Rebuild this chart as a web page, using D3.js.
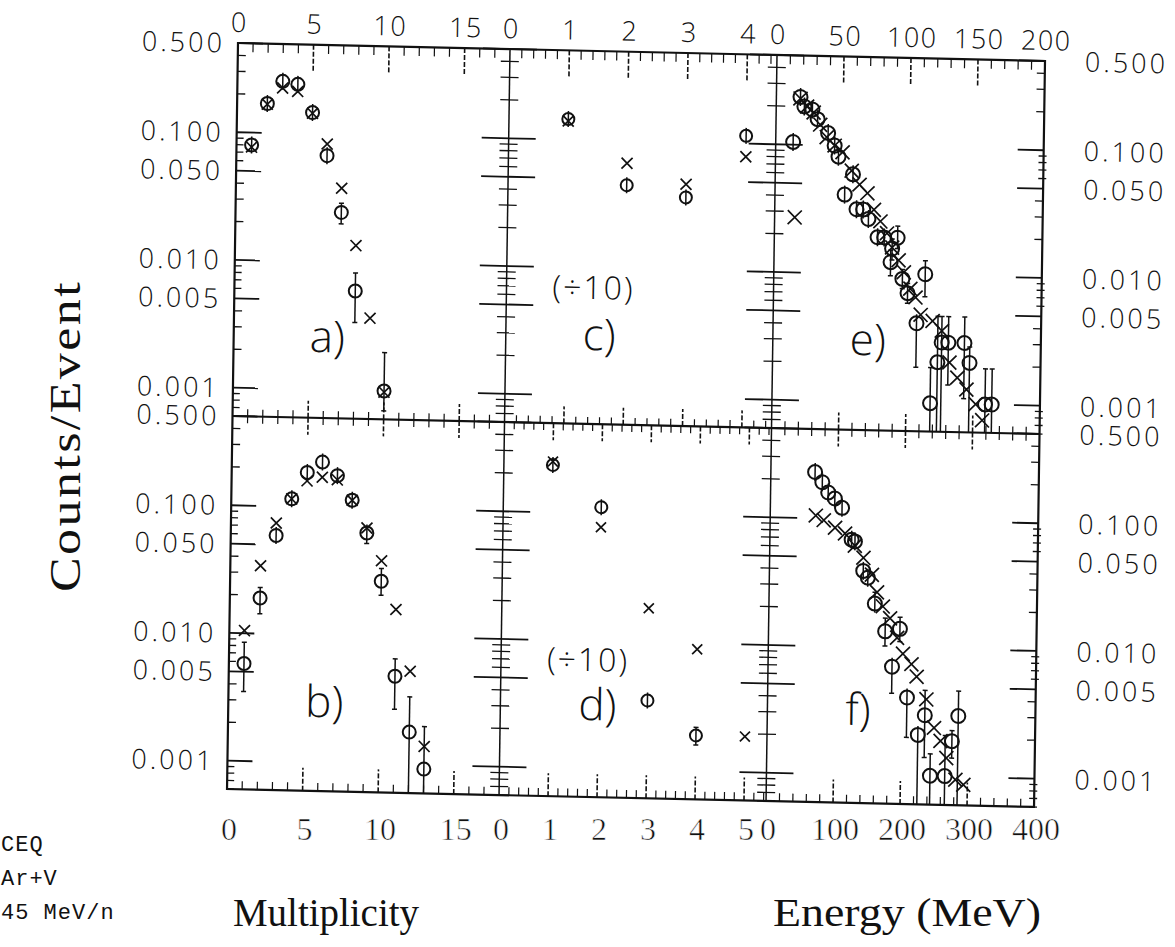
<!DOCTYPE html>
<html>
<head>
<meta charset="utf-8">
<script src="https://cdn.jsdelivr.net/npm/d3@7"></script>
<style>
  body { margin: 0; background: #fff; }
  svg { display: block; }
</style>
</head>
<body>
<svg id="chart" width="1175" height="947"></svg>
<script>
// ---------------- data ----------------
// y axis (shared by every panel, log scale)
const yTickLabels = ["0.500", "0.100", "0.050", "0.010", "0.005", "0.001"];

// x tick labels per panel
const multTickLabels = ["0", "5", "10", "15"];            // panels a, b
const ratioTopTickLabels = ["0", "1", "2", "3", "4"];      // panel c
const ratioBotTickLabels = ["0", "1", "2", "3", "4", "5"]; // panel d
const energyTopTickLabels = ["0", "50", "100", "150", "200"]; // panel e
const energyBotTickLabels = ["0", "100", "200", "300", "400"]; // panel f

// circles: [x, value, lower, upper]   crosses: [x, value]
const aCircles = [
  [1, 0.080, 0.076, 0.084], [2, 0.170, 0.162, 0.178], [3, 0.255, 0.244, 0.266],
  [4, 0.243, 0.232, 0.254], [5, 0.147, 0.140, 0.154], [6, 0.068, 0.061, 0.076],
  [7, 0.0246, 0.020, 0.029], [8, 0.0060, 0.0034, 0.0083], [10, 0.00100, 0.0007, 0.0020]
];
const aCrosses = [
  [1, 0.077], [2, 0.168], [3, 0.226], [4, 0.214], [5, 0.145],
  [6, 0.084], [7, 0.038], [8, 0.0136], [9, 0.0037], [10, 0.00098]
];

const bCircles = [
  [1, 0.0058, 0.0035, 0.0085], [2, 0.019, 0.0143, 0.023], [3, 0.059, 0.052, 0.068],
  [4, 0.115, 0.109, 0.121], [5, 0.186, 0.178, 0.194], [6, 0.226, 0.216, 0.236],
  [7, 0.178, 0.170, 0.186], [8, 0.115, 0.109, 0.121], [9, 0.064, 0.053, 0.074],
  [10, 0.027, 0.021, 0.034], [11, 0.0049, 0.0027, 0.0067], [12, 0.0018, 0.0005, 0.0034],
  [13, 0.00093, 0.0005, 0.0020]
];
const bCrosses = [
  [1, 0.0105], [2, 0.034], [3, 0.074], [4, 0.115], [5, 0.160], [6, 0.172], [7, 0.165],
  [8, 0.115], [9, 0.070], [10, 0.039], [11, 0.0163], [12, 0.0054], [13, 0.0014]
];

const cCircles = [
  [1, 0.145, 0.139, 0.151], [2, 0.045, 0.043, 0.047],
  [3, 0.037, 0.035, 0.039], [4, 0.115, 0.110, 0.120]
];
const cCrosses = [[1, 0.140], [2, 0.067], [3, 0.047], [4, 0.079]];

const dCircles = [
  [1, 0.235, 0.226, 0.244], [2, 0.112, 0.107, 0.117],
  [3, 0.0035, 0.0031, 0.0040], [4, 0.0019, 0.0016, 0.0022]
];
const dCrosses = [[1, 0.250], [2, 0.078], [3, 0.0185], [4, 0.0090], [5, 0.0019]];

const eCircles = [
  [13, 0.105, 0.100, 0.110], [18, 0.237, 0.228, 0.246], [21, 0.200, 0.192, 0.208],
  [27, 0.190, 0.182, 0.198], [31, 0.160, 0.153, 0.167], [39, 0.125, 0.119, 0.131],
  [44, 0.100, 0.095, 0.105], [47, 0.082, 0.077, 0.087], [52, 0.0415, 0.038, 0.046],
  [58, 0.060, 0.056, 0.064], [61, 0.032, 0.029, 0.035], [66, 0.032, 0.029, 0.035],
  [70, 0.027, 0.024, 0.030], [77, 0.0195, 0.017, 0.022], [82, 0.0195, 0.017, 0.022],
  [87, 0.0125, 0.0098, 0.0155], [88, 0.016, 0.013, 0.019], [92, 0.0195, 0.016, 0.024],
  [96, 0.0093, 0.0078, 0.011], [100, 0.0072, 0.006, 0.0086], [107, 0.0042, 0.0019, 0.0048],
  [113, 0.0102, 0.0068, 0.0130], [118, 0.00100, 0.0005, 0.0019], [123, 0.0021, 0.0005, 0.0048],
  [126, 0.0030, 0.0005, 0.0048], [131, 0.0030, 0.0014, 0.0048], [143, 0.0030, 0.0011, 0.0048],
  [147, 0.0021, 0.0005, 0.0028], [159, 0.0010, 0.0005, 0.0019], [164, 0.0010, 0.0005, 0.0019]
];
const eCrosses = [
  [15, 0.027], [18, 0.23], [23, 0.20], [28, 0.18], [33, 0.145], [38, 0.116], [44, 0.100],
  [50, 0.089], [57, 0.064], [63, 0.050], [69, 0.043], [74, 0.032], [79, 0.026], [84, 0.021],
  [88, 0.0163], [93, 0.0130], [97, 0.0105], [102, 0.0078], [106, 0.0067], [110, 0.0049],
  [119, 0.0044], [126, 0.0037], [132, 0.0021], [138, 0.0016], [145, 0.0013], [152, 0.0010],
  [157, 0.00075]
];

const fCircles = [
  [66, 0.230, 0.222, 0.238], [77, 0.192, 0.185, 0.199], [86, 0.160, 0.153, 0.167],
  [96, 0.144, 0.137, 0.151], [107, 0.122, 0.115, 0.129], [122, 0.069, 0.064, 0.074],
  [127, 0.067, 0.062, 0.072], [140, 0.0395, 0.035, 0.044], [147, 0.035, 0.031, 0.039],
  [158, 0.022, 0.019, 0.027], [174, 0.0134, 0.0103, 0.017], [185, 0.0071, 0.0044, 0.0081],
  [196, 0.0141, 0.0112, 0.0174], [208, 0.0041, 0.0020, 0.0047], [225, 0.0021, 0.0005, 0.0023],
  [235, 0.0030, 0.0014, 0.0047], [244, 0.00101, 0.0005, 0.0015], [266, 0.00101, 0.0005, 0.0021],
  [276, 0.0019, 0.0014, 0.0023], [285, 0.0030, 0.0005, 0.0047]
];
const fCrosses = [
  [68, 0.105], [80, 0.097], [97, 0.085], [112, 0.077], [127, 0.062], [140, 0.050],
  [153, 0.037], [161, 0.027], [170, 0.021], [181, 0.017], [192, 0.012], [201, 0.0090],
  [214, 0.0075], [222, 0.0060], [237, 0.0040], [249, 0.0024], [259, 0.0019], [268, 0.0014],
  [282, 0.00095], [294, 0.00087]
];

// ---------------- layout ----------------
const plotW = 807, rowH = 373;
const colEdges = [0, 272, 539, 807];
const yMin = 0.0006, yMax = 0.5;

const SANS = "'Open Sans', 'DejaVu Sans', sans-serif";
const SERIF = "'Liberation Serif', 'DejaVu Serif', serif";
const MONO = "'Liberation Mono', 'DejaVu Sans Mono', monospace";
const INK = "#111";

const svg = d3.select("#chart");
svg.append("rect").attr("width", 1175).attr("height", 947).attr("fill", "#fff");

// the whole frame sits slightly sheared on the page
const g = svg.append("g").attr("transform", "matrix(1,0.0223,-0.0147,1,238,43)");

const yTop = d3.scaleLog().domain([yMin, yMax]).range([rowH, 0]).clamp(true);
const yBot = d3.scaleLog().domain([yMin, yMax]).range([2 * rowH, rowH]).clamp(true);

const xa = d3.scaleLinear().domain([0, 18]).range([colEdges[0], colEdges[1]]);
const xc = d3.scaleLinear().domain([0, 4.5]).range([colEdges[1], colEdges[2]]);
const xe = d3.scaleLinear().domain([0, 200]).range([colEdges[2], colEdges[3]]);
const xb = d3.scaleLinear().domain([0, 18]).range([colEdges[0], colEdges[1]]);
const xd = d3.scaleLinear().domain([0, 5.45]).range([colEdges[1], colEdges[2]]);
const xf = d3.scaleLinear().domain([0, 400]).range([colEdges[2], colEdges[3]]);

// ---------------- frame ----------------
const frame = g.append("g").attr("stroke", INK).attr("fill", "none");
frame.append("rect").attr("x", 0).attr("y", 0).attr("width", plotW).attr("height", 2 * rowH)
  .attr("stroke-width", 2.2);
frame.append("line").attr("x1", 0).attr("x2", plotW).attr("y1", rowH).attr("y2", rowH)
  .attr("stroke-width", 2.2);
[colEdges[1], colEdges[2]].forEach(xv => {
  frame.append("line").attr("x1", xv).attr("x2", xv).attr("y1", 0).attr("y2", 2 * rowH)
    .attr("stroke-width", 1.5);
});

// ---------------- y ticks ----------------
function mantissa(t) {
  return Math.round(t / Math.pow(10, Math.floor(Math.log10(t) + 1e-9)));
}
function yTicks(xPos, yScale, mode) {
  const tg = g.append("g").attr("stroke", INK).attr("stroke-width", 1.4);
  yScale.ticks().forEach(t => {
    const m = mantissa(t);
    const py = yScale(t);
    let x1, x2;
    const big = (m === 1 || m === 5);
    const small = (m >= 6);
    if (mode === "left") { x1 = xPos; x2 = xPos + (big ? 25 : small ? 7 : 8); }
    else if (mode === "right") {
      if (small) { x1 = xPos - 5; x2 = xPos + 3; }
      else { x1 = xPos - (big ? 26 : 8); x2 = xPos; }
    } else {
      const h = big ? 27 : 9;
      x1 = xPos - h; x2 = xPos + h;
    }
    tg.append("line").attr("x1", x1).attr("x2", x2).attr("y1", py).attr("y2", py)
      .attr("stroke-width", big ? 1.8 : 1.3);
  });
}
[yTop, yBot].forEach(ys => {
  yTicks(0, ys, "left");
  yTicks(colEdges[1], ys, "mid");
  yTicks(colEdges[2], ys, "mid");
  yTicks(plotW, ys, "right");
});

// y tick labels, left and right
const yLab = g.append("g").attr("font-family", SANS).attr("font-weight", 300)
  .attr("font-size", 27).attr("fill", INK).attr("letter-spacing", 3);
[yTop, yBot].forEach(ys => {
  yTickLabels.forEach(lbl => {
    const v = +lbl;
    yLab.append("text").attr("x", -13).attr("y", ys(v)).attr("dy", "0.36em")
      .attr("text-anchor", "end").text(lbl);
    yLab.append("text").attr("x", 847).attr("y", ys(v)).attr("dy", "0.36em")
      .attr("text-anchor", "start").text(lbl);
  });
});

// ---------------- x ticks ----------------
function xTicks(xs, majorStep, minorStep, yPos, dir, majLen, minLen) {
  const tg = g.append("g").attr("stroke", INK);
  const [d0, d1] = xs.domain();
  const n = Math.round((d1 - d0) / minorStep);
  for (let i = 1; i <= n; i++) {
    const v = d0 + i * minorStep;
    if (xs(v) >= xs.range()[1] - 1) continue;
    const isMajor = Math.abs(v / majorStep - Math.round(v / majorStep)) < 1e-6;
    const len = isMajor ? majLen : minLen;
    tg.append("line").attr("x1", xs(v)).attr("x2", xs(v))
      .attr("y1", yPos).attr("y2", yPos + dir * len)
      .attr("stroke-width", isMajor ? 1.6 : 1.2)
      .attr("stroke-dasharray", isMajor ? "5,2" : null);
  }
}
// top row
xTicks(xa, 5, 1, 0, 1, 28, 9);
xTicks(xc, 1, 0.2, 0, 1, 28, 9);
xTicks(xe, 50, 10, 0, 1, 28, 9);
xTicks(xa, 5, 1, rowH, -1, 17, 7);
xTicks(xc, 1, 0.2, rowH, -1, 17, 7);
xTicks(xe, 50, 10, rowH, -1, 17, 7);
// bottom row
xTicks(xb, 5, 1, rowH, 1, 17, 7);
xTicks(xd, 1, 0.2, rowH, 1, 17, 7);
xTicks(xf, 100, 20, rowH, 1, 17, 7);
xTicks(xb, 5, 1, 2 * rowH, -1, 23, 8);
xTicks(xd, 1, 0.2, 2 * rowH, -1, 23, 8);
xTicks(xf, 100, 20, 2 * rowH, -1, 23, 8);

// top tick labels (follow the frame)
const topLab = g.append("g").attr("font-family", SANS).attr("font-weight", 300)
  .attr("font-size", 27).attr("fill", INK).attr("letter-spacing", 1.5).attr("text-anchor", "middle");
[[xa, multTickLabels], [xc, ratioTopTickLabels], [xe, energyTopTickLabels]].forEach(([xs, labels]) => {
  labels.forEach(lbl => {
    topLab.append("text").attr("x", xs(+lbl) + 1).attr("y", -11).text(lbl);
  });
});

// bottom tick labels
const botLab = svg.append("g").attr("font-family", SERIF).attr("font-size", 32)
  .attr("fill", INK).attr("stroke", "#fff").attr("stroke-width", 0.6).attr("text-anchor", "middle");
[[xb, multTickLabels], [xd, ratioBotTickLabels], [xf, energyBotTickLabels]].forEach(([xs, labels]) => {
  labels.forEach(lbl => {
    botLab.append("text").attr("x", 227 + xs(+lbl) + 2).attr("y", 840).text(lbl);
  });
});

// ---------------- data marks ----------------
function drawSeries(xs, ys, circles, crosses, rc, hc) {
  const pg = g.append("g").attr("stroke", INK).attr("fill", "none");
  circles.forEach(([xv, v, lo, hi]) => {
    const cx = xs(xv), cy = ys(v);
    const yh = ys(hi), yl = ys(lo);
    const top = Math.min(yh, cy - rc - 2), bot = Math.max(yl, cy + rc + 2);
    pg.append("line").attr("x1", cx).attr("x2", cx).attr("y1", top).attr("y2", bot)
      .attr("stroke-width", 1.5);
    if (yh < cy - rc - 2) {
      pg.append("line").attr("x1", cx - 2.5).attr("x2", cx + 2.5).attr("y1", yh).attr("y2", yh)
        .attr("stroke-width", 1.5);
    }
    if (yl > cy + rc + 2 && lo > yMin) {
      pg.append("line").attr("x1", cx - 2.5).attr("x2", cx + 2.5).attr("y1", yl).attr("y2", yl)
        .attr("stroke-width", 1.5);
    }
  });
  pg.selectAll("circle").data(circles).join("circle")
    .attr("cx", d => xs(d[0])).attr("cy", d => ys(d[1])).attr("r", rc)
    .attr("stroke-width", 2);
  pg.selectAll("path").data(crosses).join("path")
    .attr("d", d => {
      const cx = xs(d[0]), cy = ys(d[1]);
      return `M${cx - hc},${cy - hc}L${cx + hc},${cy + hc}M${cx - hc},${cy + hc}L${cx + hc},${cy - hc}`;
    })
    .attr("stroke-width", 1.7);
}
drawSeries(xa, yTop, aCircles, aCrosses, 6.5, 5.5);
drawSeries(xc, yTop, cCircles, cCrosses, 6, 5.5);
drawSeries(xe, yTop, eCircles, eCrosses, 7, 7);
drawSeries(xb, yBot, bCircles, bCrosses, 6.5, 5.5);
drawSeries(xd, yBot, dCircles, dCrosses, 6, 5);
drawSeries(xf, yBot, fCircles, fCrosses, 7, 7);

// ---------------- panel captions ----------------
const cap = g.append("g").attr("font-family", SANS).attr("font-weight", 300).attr("fill", INK);
[
  ["a)", 76, 307, 44], ["c)", 349, 299, 44], ["e)", 616, 298, 44],
  ["b)", 77, 672, 44], ["d)", 350, 669, 44], ["f)", 617, 668, 44],
  ["(÷10)", 318, 248, 32], ["(÷10)", 318, 620, 32]
].forEach(([t, x, y, fs]) => {
  cap.append("text").attr("x", x).attr("y", y).attr("font-size", fs)
    .attr("letter-spacing", fs < 40 ? 2 : 0).text(t);
});

// ---------------- axis titles and run info ----------------
const titles = svg.append("g").attr("font-family", SERIF).attr("fill", INK);
titles.append("text").attr("transform", "translate(80,436) rotate(-90)")
  .attr("text-anchor", "middle").attr("font-size", 44).attr("letter-spacing", 2)
  .attr("textLength", 312).attr("lengthAdjust", "spacingAndGlyphs")
  .text("Counts/Event");
titles.append("text").attr("x", 233).attr("y", 926).attr("font-size", 40)
  .attr("textLength", 186).attr("lengthAdjust", "spacingAndGlyphs")
  .text("Multiplicity");
titles.append("text").attr("x", 773).attr("y", 926).attr("font-size", 40)
  .attr("textLength", 268).attr("lengthAdjust", "spacingAndGlyphs")
  .text("Energy (MeV)");

const info = svg.append("g").attr("font-family", MONO).attr("font-size", 22).attr("fill", INK)
  .attr("letter-spacing", 1);
info.append("text").attr("x", 1).attr("y", 851).text("CEQ");
info.append("text").attr("x", 1).attr("y", 885).text("Ar+V");
info.append("text").attr("x", 1).attr("y", 919).text("45 MeV/n");
</script>
</body>
</html>
